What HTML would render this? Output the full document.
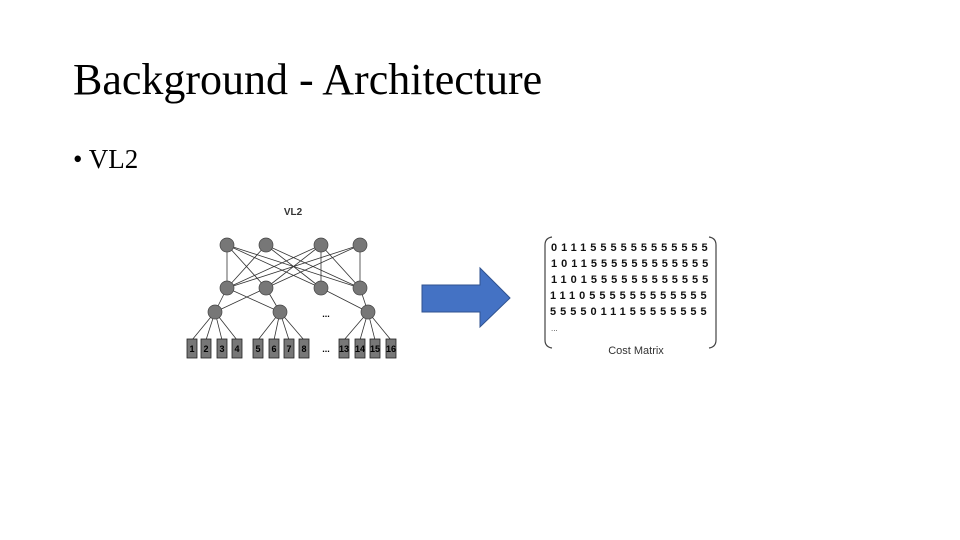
<!DOCTYPE html>
<html><head><style>
body{margin:0;width:960px;height:540px;background:#fff;position:relative;overflow:hidden;font-family:"Liberation Serif",serif}
.t{position:absolute;left:73px;top:54px;font-size:44px;color:#000;white-space:nowrap}
.b{position:absolute;left:73px;top:144px;font-size:27px}
</style></head><body>
<div class="t">Background - Architecture</div>
<div class="b">• VL2</div>
<svg width="960" height="540" style="position:absolute;left:0;top:0" font-family="Liberation Sans, sans-serif">
<text x="293" y="215" font-size="10" font-weight="bold" text-anchor="middle" fill="#333">VL2</text>
<g stroke="#333" stroke-width="0.8">
<line x1="227" y1="245" x2="227" y2="288"/><line x1="227" y1="245" x2="266" y2="288"/><line x1="227" y1="245" x2="321" y2="288"/><line x1="227" y1="245" x2="360" y2="288"/>
<line x1="266" y1="245" x2="227" y2="288"/><line x1="266" y1="245" x2="321" y2="288"/><line x1="266" y1="245" x2="360" y2="288"/>
<line x1="321" y1="245" x2="321" y2="288"/><line x1="321" y1="245" x2="227" y2="288"/><line x1="321" y1="245" x2="266" y2="288"/><line x1="321" y1="245" x2="360" y2="288"/>
<line x1="360" y1="245" x2="360" y2="288"/><line x1="360" y1="245" x2="227" y2="288"/><line x1="360" y1="245" x2="266" y2="288"/>
<line x1="227" y1="288" x2="215" y2="312"/><line x1="227" y1="288" x2="280" y2="312"/><line x1="266" y1="288" x2="215" y2="312"/><line x1="266" y1="288" x2="280" y2="312"/>
<line x1="321" y1="288" x2="368" y2="312"/><line x1="360" y1="288" x2="368" y2="312"/>
<line x1="215" y1="312" x2="192" y2="340"/><line x1="215" y1="312" x2="206" y2="340"/><line x1="215" y1="312" x2="222" y2="340"/><line x1="215" y1="312" x2="237" y2="340"/>
<line x1="280" y1="312" x2="258" y2="340"/><line x1="280" y1="312" x2="274" y2="340"/><line x1="280" y1="312" x2="289" y2="340"/><line x1="280" y1="312" x2="304" y2="340"/>
<line x1="368" y1="312" x2="344" y2="340"/><line x1="368" y1="312" x2="360" y2="340"/><line x1="368" y1="312" x2="375" y2="340"/><line x1="368" y1="312" x2="391" y2="340"/>
</g>
<g fill="#777" stroke="#444" stroke-width="0.7">
<circle cx="227" cy="245" r="7"/><circle cx="266" cy="245" r="7"/><circle cx="321" cy="245" r="7"/><circle cx="360" cy="245" r="7"/>
<circle cx="227" cy="288" r="7"/><circle cx="266" cy="288" r="7"/><circle cx="321" cy="288" r="7"/><circle cx="360" cy="288" r="7"/>
<circle cx="215" cy="312" r="7"/><circle cx="280" cy="312" r="7"/><circle cx="368" cy="312" r="7"/>
</g>
<g fill="#777" stroke="#222" stroke-width="0.8">
<rect x="187" y="339" width="10" height="19"/><rect x="201" y="339" width="10" height="19"/><rect x="217" y="339" width="10" height="19"/><rect x="232" y="339" width="10" height="19"/>
<rect x="253" y="339" width="10" height="19"/><rect x="269" y="339" width="10" height="19"/><rect x="284" y="339" width="10" height="19"/><rect x="299" y="339" width="10" height="19"/>
<rect x="339" y="339" width="10" height="19"/><rect x="355" y="339" width="10" height="19"/><rect x="370" y="339" width="10" height="19"/><rect x="386" y="339" width="10" height="19"/>
</g>
<g font-size="9" font-weight="bold" fill="#000" text-anchor="middle">
<text x="192" y="352">1</text><text x="206" y="352">2</text><text x="222" y="352">3</text><text x="237" y="352">4</text>
<text x="258" y="352">5</text><text x="274" y="352">6</text><text x="289" y="352">7</text><text x="304" y="352">8</text>
<text x="344" y="352">13</text><text x="360" y="352">14</text><text x="375" y="352">15</text><text x="391" y="352">16</text>
<text x="326" y="352">...</text><text x="326" y="317">...</text>
</g>
<polygon points="422,285 480,285 480,268 510,298 480,327 480,312 422,312" fill="#4472c4" stroke="#2f528f" stroke-width="1"/>
<g fill="none" stroke="#444" stroke-width="1.2">
<path d="M552,237 Q545,238 545,245 L545,340 Q545,347 552,348"/>
<path d="M709,237 Q716,238 716,245 L716,340 Q716,347 709,348"/>
</g>
<g font-size="11" font-weight="bold" fill="#111" letter-spacing="4">
<text x="551" y="251">0111555555555555</text>
<text x="551" y="267">1011555555555555</text>
<text x="551" y="283">1101555555555555</text>
<text x="550" y="299">1110555555555555</text>
<text x="550" y="315">5555011155555555</text>
</g>
<text x="551" y="331" font-size="8" fill="#444">...</text>
<text x="636" y="354" font-size="11" fill="#333" text-anchor="middle">Cost Matrix</text>
</svg>
</body></html>
